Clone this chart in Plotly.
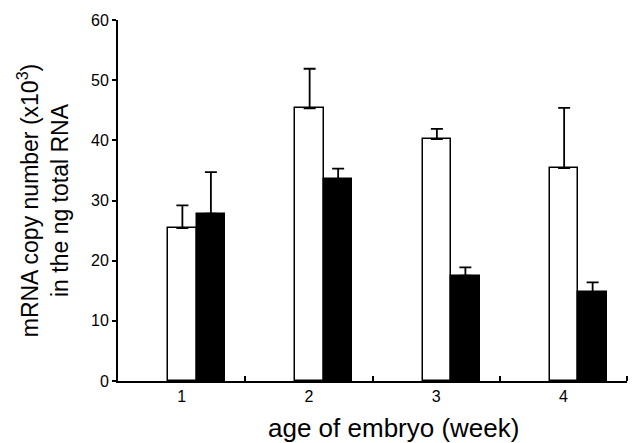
import plotly.graph_objects as go

weeks = [1, 2, 3, 4]
week_labels = ["1", "2", "3", "4"]
white_vals = [25.4, 45.3, 40.2, 35.4]
white_err = [3.8, 6.6, 1.7, 10.0]
black_vals = [27.8, 33.6, 17.5, 14.8]
black_err = [6.9, 1.7, 1.4, 1.6]
y_ticks = [0, 10, 20, 30, 40, 50, 60]
boundaries = [1.5, 2.5, 3.5, 4.5]
x_title = "age of embryo (week)"
y_title = "mRNA copy number (x10<sup>3</sup>)<br>in the ng total RNA"

fig = go.Figure()
fig.add_trace(go.Bar(
    x=weeks, y=white_vals, width=0.224, offset=-0.106,
    marker=dict(color="white", line=dict(color="black", width=1.5)),
    error_y=dict(type="data", symmetric=False, array=white_err,
                 arrayminus=[0] * 4, color="black", thickness=1.8, width=6),
    showlegend=False,
))
fig.add_trace(go.Bar(
    x=weeks, y=black_vals, width=0.224, offset=0.118,
    marker=dict(color="black", line=dict(color="black", width=1.5)),
    error_y=dict(type="data", symmetric=False, array=black_err,
                 arrayminus=[0] * 4, color="black", thickness=1.8, width=6),
    showlegend=False,
))

font = "Liberation Sans, Arial, sans-serif"
fig.update_layout(
    width=632, height=443,
    margin=dict(l=118, r=5, t=20, b=62),
    paper_bgcolor="white", plot_bgcolor="white",
    font=dict(family=font, color="black"),
    xaxis=dict(
        range=[0.5, 4.5], tickvals=weeks, ticktext=week_labels,
        ticks="", showgrid=False, zeroline=False,
        showline=True, linecolor="black", linewidth=2,
        tickfont=dict(size=16, family=font),
        minor=dict(tickvals=boundaries, ticks="inside", ticklen=5,
                   tickwidth=1.5, tickcolor="black", showgrid=False),
    ),
    yaxis=dict(
        range=[0, 60], tickvals=y_ticks, ticks="outside", ticklen=4,
        tickwidth=1.5, tickcolor="black",
        showgrid=False, zeroline=False,
        showline=True, linecolor="black", linewidth=2,
        tickfont=dict(size=16, family=font),
        title=dict(text=y_title, font=dict(size=23, family=font), standoff=16),
    ),
    bargap=0, barmode="overlay",
    annotations=[dict(
        text=x_title, xref="paper", yref="paper", x=0.542, y=-0.130,
        xanchor="center", yanchor="middle", showarrow=False,
        font=dict(size=26, family=font, color="black"),
    )],
)

fig.write_html("out.html", config={"displayModeBar": False},
               post_script="document.body.style.margin='0';document.body.style.overflow='hidden';")
